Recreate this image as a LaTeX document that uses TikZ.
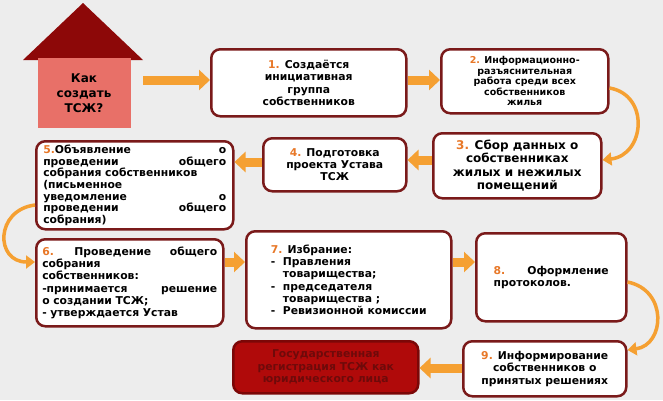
\documentclass[tikz,border=0pt]{standalone}
\usepackage{fontspec}
\setmainfont{DejaVu Sans}
\usetikzlibrary{arrows.meta}
\definecolor{bordred}{RGB}{122,26,26}
\definecolor{arrorange}{RGB}{245,160,50}
\definecolor{numorange}{RGB}{232,120,40}
\definecolor{housered}{RGB}{232,112,104}
\definecolor{regred}{RGB}{176,10,10}
\definecolor{regtext}{RGB}{110,10,10}
\newcommand{\num}[1]{\textcolor{numorange}{#1}}
\tikzset{
  stepbox/.style={draw=bordred, line width=2.5pt, rounded corners=9pt, fill=white,
    anchor=north west, inner sep=5pt, font=\bfseries\fontsize{10.8}{12.3}\selectfont},
  fatarrow/.style={draw=arrorange, line width=9pt, -{Triangle[length=11pt,width=20pt]}},
  bendarrow/.style={draw=arrorange, line width=3.5pt, -{Triangle[length=9pt,width=13pt]}}
}
\begin{document}
\begin{tikzpicture}[x=1pt,y=1pt,yscale=-1]
    \useasboundingbox (0,0) rectangle (663,400);
    \fill[gray!14] (0,0) rectangle (663,400);
    % house
    \fill[regred!80!black] (23,60) -- (83,3) -- (143,60) -- cycle;
    \fill[housered] (38,58) rectangle (131,128);
    \node (house) [font=\bfseries\fontsize{12}{15}\selectfont, align=center] at (84,93) {Как\\создать\\ТСЖ?};
    % boxes
    \node (s1) [stepbox, minimum width=195pt, minimum height=67pt, align=center] at (210,48)
      {\num{1.} Создаётся\\инициативная\\группа\\собственников};
    \node (s2) [stepbox, minimum width=167pt, minimum height=64pt, align=center,
      font=\bfseries\fontsize{9.5}{10.5}\selectfont] at (440,48)
      {\num{2.} Информационно-\\разъяснительная\\работа среди всех\\собственников\\жилья};
    \node (s3) [stepbox, minimum width=168pt, minimum height=65pt, align=center,
      font=\bfseries\fontsize{12}{13.5}\selectfont] at (432,132)
      {\num{3.} Сбор данных о\\собственниках\\жилых и нежилых\\помещений};
    \node (s4) [stepbox, minimum width=143pt, minimum height=53pt, align=center] at (262,137)
      {\num{4.} Подготовка\\проекта Устава\\ТСЖ};
    \node (s5) [stepbox, minimum width=197pt, minimum height=88pt, align=left,
      text width=183pt, inner sep=3pt, font=\bfseries\fontsize{10.8}{11.6}\selectfont] at (35,140)
      {\num{5.}Объявление \hfill о\\проведении \hfill общего\\собрания собственников\\(письменное\\уведомление \hfill о\\проведении \hfill общего\\собрания)};
    \node (s6) [stepbox, minimum width=187pt, minimum height=87pt, align=left,
      text width=175pt] at (35,238)
      {\num{6.} \hfill Проведение \hfill общего\\собрания\\собственников:\\-принимается \hfill решение\\о создании ТСЖ;\\- утверждается Устав};
    \node (s7) [stepbox, minimum width=205pt, minimum height=97pt, align=left] at (245,230)
      {\num{7.} Избрание:\\- \ Правления\\\phantom{- \ }товарищества;\\- \ председателя\\\phantom{- \ }товарищества ;\\- \ Ревизионной комиссии};
    \node (s8) [stepbox, minimum width=150pt, minimum height=88pt, align=left] at (475,232)
      {\num{8.}\hspace{22pt}Оформление\\протоколов.};
    \node (s9) [stepbox, minimum width=163pt, minimum height=55pt, align=center] at (462,340)
      {\num{9.} Информирование\\собственников о\\принятых решениях};
    \node (reg) [stepbox, draw=regred!70!black, fill=regred, text=regtext, minimum width=185pt,
      minimum height=52pt, align=center] at (232,340)
      {Государственная\\регистрация ТСЖ как\\юридического лица};
    % connections
    \draw[fatarrow] (143,80) -- (s1.west |- 0,80);
    \draw[fatarrow] (s1.east |- 0,80) -- (s2.west |- 0,80);
    \draw[bendarrow] (s2.east |- 0,88) .. controls (650,95) and (645,155) .. (s3.east |- 0,160);
    \draw[fatarrow] (s3.west |- 0,160) -- (s4.east |- 0,160);
    \draw[fatarrow] (s4.west |- 0,162) -- (s5.east |- 0,162);
    \draw[bendarrow] (s5.west |- 0,205) .. controls (-5,210) and (-5,262) .. (s6.west |- 0,262);
    \draw[fatarrow] (s6.east |- 0,262) -- (s7.west |- 0,262);
    \draw[fatarrow] (s7.east |- 0,262) -- (s8.west |- 0,262);
    \draw[bendarrow] (s8.east |- 0,282) .. controls (668,290) and (665,345) .. (s9.east |- 0,350);
    \draw[fatarrow] (s9.west |- 0,368) -- (reg.east |- 0,368);
\end{tikzpicture}
\end{document}
